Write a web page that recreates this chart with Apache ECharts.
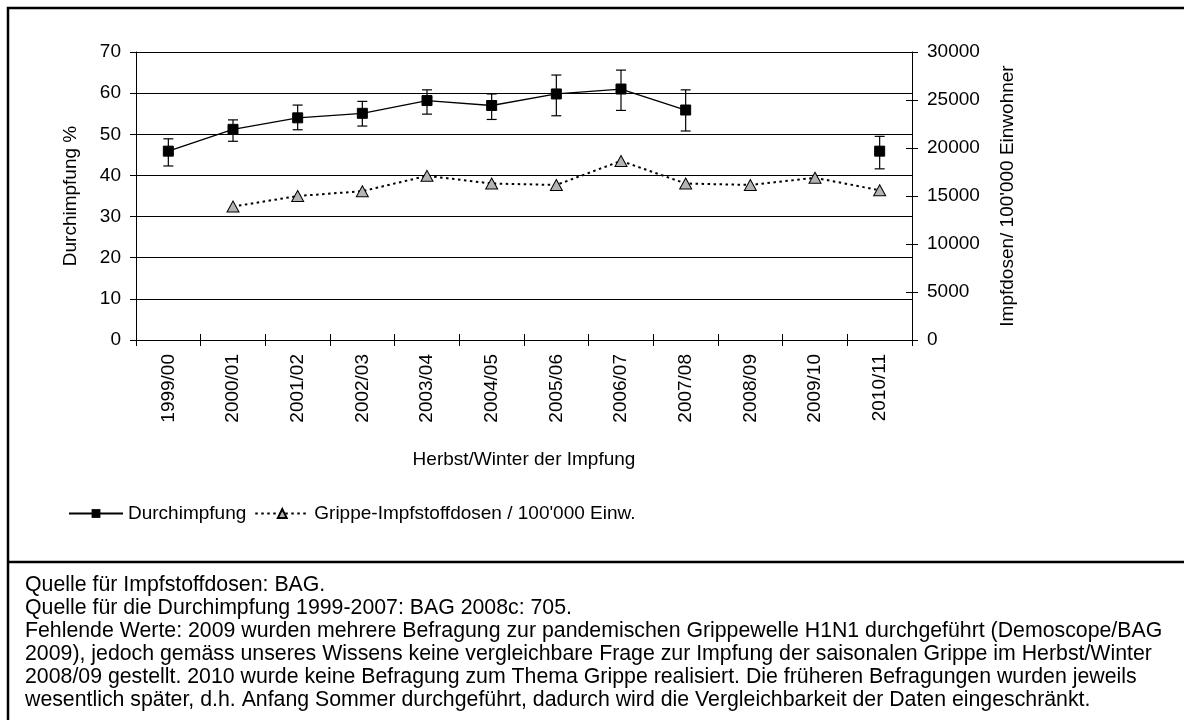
<!DOCTYPE html>
<html>
<head>
<meta charset="utf-8">
<script src="https://cdn.jsdelivr.net/npm/echarts@6/dist/echarts.min.js"></script>
<style>
html,body{margin:0;padding:0;background:#fff;}
#c{width:1184px;height:720px;}
</style>
</head>
<body>
<div id="c"></div>
<script>
var categories = ['1999/00','2000/01','2001/02','2002/03','2003/04','2004/05','2005/06','2006/07','2007/08','2008/09','2009/10','2010/11'];
var durchimpfung = [45.9, 51.2, 54.0, 55.1, 58.2, 57.0, 59.8, 61.0, 55.9, null, null, 45.9];
var errHigh = [48.9, 53.5, 57.1, 58.0, 60.8, 59.8, 64.4, 65.6, 60.8, null, null, 49.5];
var errLow = [42.3, 48.3, 51.1, 52.0, 54.9, 53.6, 54.5, 55.8, 50.8, null, null, 41.6];
var impfdosen = [null, 13900, 15000, 15500, 17100, 16300, 16150, 18650, 16300, 16150, 16900, 15600];
var footnotes = [
  'Quelle für Impfstoffdosen: BAG.',
  'Quelle für die Durchimpfung 1999-2007: BAG 2008c: 705.',
  'Fehlende Werte: 2009 wurden mehrere Befragung zur pandemischen Grippewelle H1N1 durchgeführt (Demoscope/BAG',
  '2009), jedoch gemäss unseres Wissens keine vergleichbare Frage zur Impfung der saisonalen Grippe im Herbst/Winter',
  '2008/09 gestellt. 2010 wurde keine Befragung zum Thema Grippe realisiert. Die früheren Befragungen wurden jeweils',
  'wesentlich später, d.h. Anfang Sommer durchgeführt, dadurch wird die Vergleichbarkeit der Daten eingeschränkt.'
];

var FONT = 'Liberation Sans, Arial, sans-serif';
var FS = 19;
var errData = [];
for (var i = 0; i < categories.length; i++) {
  if (errLow[i] != null) errData.push([i, errLow[i], errHigh[i]]);
}

var graphics = [
  {type:'rect', shape:{x:8, y:8, width:1200, height:730}, style:{fill:null, stroke:'#000', lineWidth:2.5}, silent:true},
  {type:'line', shape:{x1:8, y1:562, x2:1200, y2:562}, style:{stroke:'#000', lineWidth:2.5}, silent:true}
];
footnotes.forEach(function(t, k){
  graphics.push({type:'text', x:25, y:585 + k*23, style:{text:t, font:'21.3px ' + FONT, fill:'#000', verticalAlign:'middle', align:'left'}, silent:true});
});

var chart = echarts.init(document.getElementById('c'), null, {renderer:'canvas'});
chart.setOption({
  backgroundColor:'#fff',
  animation:false,
  textStyle:{fontFamily:FONT},
  graphic: graphics,
  legend:{
    left:63, top:499, itemWidth:54, itemHeight:11, itemGap:8,
    textStyle:{fontSize:19, color:'#000', fontFamily:FONT},
    data:['Durchimpfung','Grippe-Impfstoffdosen / 100\'000 Einw.']
  },
  grid:{left:136, right:272, top:52, bottom:380},
  xAxis:[{
    type:'category', data:categories, boundaryGap:true,
    axisLine:{lineStyle:{color:'#000', width:1}},
    axisTick:{show:true, length:6, lineStyle:{color:'#000'}},
    axisLabel:{rotate:90, fontSize:FS, color:'#000', margin:14, interval:0, fontFamily:FONT},
    name:'Herbst/Winter der Impfung', nameLocation:'middle', nameGap:110,
    nameTextStyle:{fontSize:FS, color:'#000', fontFamily:FONT}
  },{
    type:'category', data:categories, position:'bottom', boundaryGap:true,
    axisLine:{show:false}, axisLabel:{show:false},
    axisTick:{show:true, inside:true, length:6, lineStyle:{color:'#000'}}
  }],
  yAxis:[{
    type:'value', min:0, max:70, interval:10, position:'left',
    axisLine:{show:true, lineStyle:{color:'#000'}},
    axisTick:{show:true, length:6, lineStyle:{color:'#000'}},
    axisLabel:{fontSize:FS, color:'#000', margin:15, fontFamily:FONT},
    splitLine:{show:true, lineStyle:{color:'#000', width:1}},
    name:'Durchimpfung %', nameLocation:'middle', nameGap:56, nameRotate:90,
    nameTextStyle:{fontSize:FS, color:'#000', fontFamily:FONT}
  },{
    type:'value', min:0, max:30000, interval:5000, position:'right',
    axisLine:{show:true, lineStyle:{color:'#000'}},
    axisTick:{show:true, length:6, lineStyle:{color:'#000'}},
    axisLabel:{fontSize:FS, color:'#000', margin:15, fontFamily:FONT, formatter:function(v){return String(v);}},
    splitLine:{show:false},
    name:'Impfdosen/ 100\'000 Einwohner', nameLocation:'middle', nameGap:86, nameRotate:90,
    nameTextStyle:{fontSize:FS, color:'#000', fontFamily:FONT}
  },{
    type:'value', min:0, max:30000, interval:5000, position:'right',
    axisLine:{show:false}, axisLabel:{show:false}, splitLine:{show:false},
    axisTick:{show:true, inside:true, length:6, lineStyle:{color:'#000'}}
  }],
  series:[{
    name:'Durchimpfung', type:'line', xAxisIndex:0, yAxisIndex:0,
    data:durchimpfung, connectNulls:false,
    symbol:'rect', symbolSize:10,
    lineStyle:{color:'#000', width:1.3},
    itemStyle:{color:'#000', borderColor:'#000'},
    z:4
  },{
    name:'Grippe-Impfstoffdosen / 100\'000 Einw.', type:'line', xAxisIndex:0, yAxisIndex:1,
    data:impfdosen, connectNulls:false,
    symbol:'triangle', symbolSize:[12,11],
    lineStyle:{color:'#000', width:2, type:[2.5,3.5]},
    itemStyle:{color:'#b4b4b4', borderColor:'#000', borderWidth:1},
    z:3
  },{
    name:'err', type:'custom', xAxisIndex:0, yAxisIndex:0,
    data:errData, z:5,
    renderItem:function(params, api){
      var x = api.value(0);
      var lo = api.coord([x, api.value(1)]);
      var hi = api.coord([x, api.value(2)]);
      var w = 5;
      var st = {stroke:'#000', lineWidth:1.2, fill:null};
      return {type:'group', children:[
        {type:'line', shape:{x1:lo[0], y1:lo[1], x2:hi[0], y2:hi[1]}, style:st},
        {type:'line', shape:{x1:lo[0]-w, y1:lo[1], x2:lo[0]+w, y2:lo[1]}, style:st},
        {type:'line', shape:{x1:hi[0]-w, y1:hi[1], x2:hi[0]+w, y2:hi[1]}, style:st}
      ]};
    }
  }]
});
</script>
</body>
</html>
